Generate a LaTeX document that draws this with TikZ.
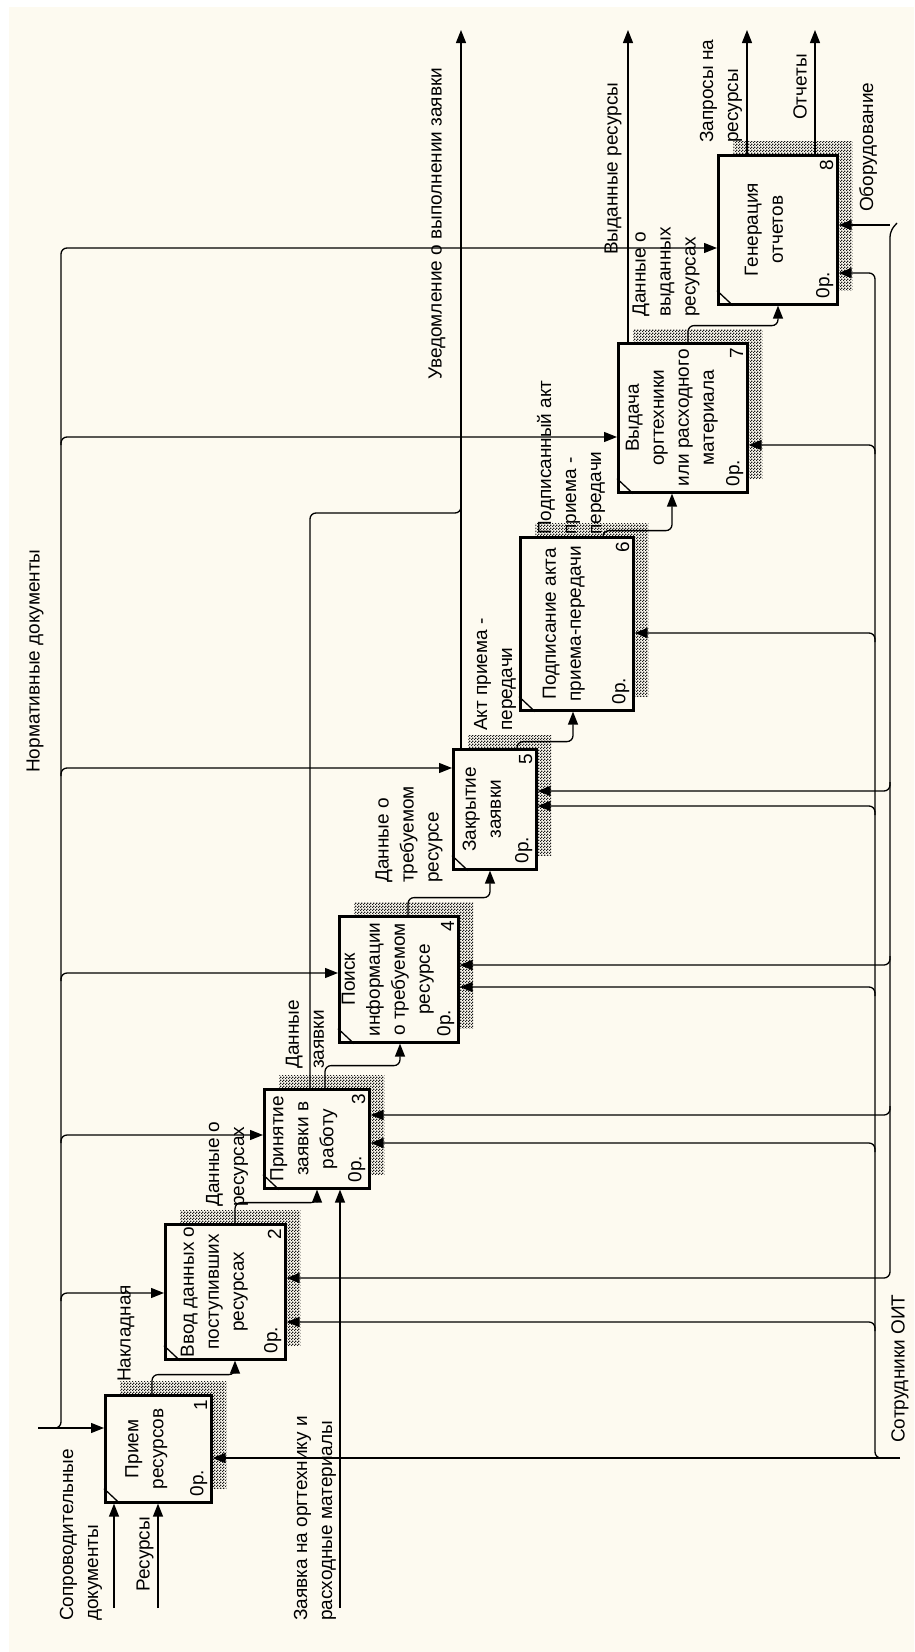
\documentclass[tikz,border=0pt]{standalone}
\usepackage{fontspec}
\setmainfont{Liberation Sans}
\usepackage{tikz}
\usetikzlibrary{arrows.meta,calc,patterns,shadows}
\definecolor{paper}{RGB}{253,250,240}
\pgfdeclarepatternformonly{finecheck}{\pgfqpoint{0pt}{0pt}}{\pgfqpoint{3pt}{3pt}}{\pgfqpoint{3pt}{3pt}}{%
  \pgfpathrectangle{\pgfqpoint{0pt}{0pt}}{\pgfqpoint{1.5pt}{1.5pt}}%
  \pgfpathrectangle{\pgfqpoint{1.5pt}{1.5pt}}{\pgfqpoint{1.5pt}{1.5pt}}%
  \pgfusepath{fill}}

\begin{document}
\begin{tikzpicture}[x=1pt, y=-1pt,
    every node/.style={font=\fontsize{19}{25}\selectfont},
    func/.style={draw, line width=2.6pt, fill=paper, anchor=north west, inner sep=0pt,
      general shadow={shadow xshift=15pt, shadow yshift=14pt, pattern=finecheck, pattern color=black!90}},
    ftext/.style={rotate=90, align=center, inner sep=0pt},
    fnum/.style={rotate=90, inner sep=0pt},
    lbl/.style={rotate=90, align=left, anchor=west, inner sep=0pt},
    arr/.style={line width=1.3pt, rounded corners=6pt, -{Triangle[length=13pt,width=10pt]}},
    wire/.style={line width=1.3pt, rounded corners=6pt}]
    \fill[white] (0,0) rectangle (914,1652);
    \fill[paper] (9,7) rectangle (914,1652);
    \useasboundingbox (0,0) rectangle (914,1652);

    \node[func, minimum width=106pt, minimum height=107pt] (b1) at (104,1394) {};
    \node[func, minimum width=120pt, minimum height=135pt] (b2) at (164,1223) {};
    \node[func, minimum width=105pt, minimum height=99pt]  (b3) at (263,1088) {};
    \node[func, minimum width=119pt, minimum height=126pt] (b4) at (338,915) {};
    \node[func, minimum width=83pt,  minimum height=120pt] (b5) at (452,748) {};
    \node[func, minimum width=113pt, minimum height=173pt] (b6) at (519,536) {};
    \node[func, minimum width=129pt, minimum height=149pt] (b7) at (617,342) {};
    \node[func, minimum width=119pt, minimum height=149pt] (b8) at (717,154) {};

    \node[ftext] (t1) at ($(b1.center)+(-12,0)$) {Прием\\ресурсов};
    \node[ftext] (t2) at ($(b2.center)+(-11,0)$) {Ввод данных о\\поступивших\\ресурсах};
    \node[ftext] (t3) at ($(b3.center)+(-13,0)$) {Принятие\\заявки в\\работу};
    \node[ftext] (t4) at ($(b4.center)+(-11,0)$) {Поиск\\информации\\о требуемом\\ресурсе};
    \node[ftext] (t5) at ($(b5.center)+(-13,0)$) {Закрытие\\заявки};
    \node[ftext] (t6) at ($(b6.center)+(-13,0)$) {Подписание акта\\приема-передачи};
    \node[ftext] (t7) at ($(b7.center)+(-11,0)$) {Выдача\\оргтехники\\или расходного\\материала};
    \node[ftext] (t8) at ($(b8.center)+(-14,0)$) {Генерация\\отчетов};

    \foreach \b/\n in {b1/1, b2/2, b3/3, b4/4, b5/5, b6/6, b7/7, b8/8} {
        \node[fnum] (n\n) at ($(\b.north east)+(-12,11)$) {\n};
        \node[lbl] (z\n) at ($(\b.south east)+(-14,-7)$) {0р.};
        \draw[line width=1.3pt] ($(\b.south west)+(0,-15)$) -- ($(\b.south west)+(16,0)$);
    }

    \node[lbl] (l_norm) at (35,773) {Нормативные документы};
    \node[lbl] (l_sopr) at (81,1621) {Сопроводительные\\документы};
    \node[lbl] (l_res) at (145,1592) {Ресурсы};
    \node[lbl] (l_zay) at (315,1621) {Заявка на оргтехнику и\\расходные материалы};
    \node[lbl] (l_nakl) at (126,1382) {Накладная};
    \node[lbl] (l_dres) at (227,1207) {Данные о\\ресурсах};
    \node[lbl] (l_dzay) at (305,1069) {Данные\\заявки};
    \node[lbl] (l_dtreb) at (409,883) {Данные о\\требуемом\\ресурсе};
    \node[lbl] (l_akt) at (495,731) {Акт приема -\\передачи};
    \node[lbl] (l_podp) at (571,535) {Подписанный акт\\приема -\\передачи};
    \node[lbl] (l_uved) at (437,380) {Уведомление о выполнении заявки};
    \node[lbl] (l_dvyd) at (666,317) {Данные о\\выданных\\ресурсах};
    \node[lbl] (l_vyd) at (613,255) {Выданные ресурсы};
    \node[lbl] (l_zapr) at (721,143) {Запросы на\\ресурсы};
    \node[lbl] (l_otch) at (800,120) {Отчеты};
    \node[lbl] (l_obor) at (868,212) {Оборудование};
    \node[lbl] (l_sotr) at (900,1443) {Сотрудники ОИТ};

    \coordinate (in_sopr) at (114,1608);
    \coordinate (in_res) at (158,1608);
    \coordinate (in_zay) at (340,1608);
    \coordinate (in_norm) at (38,1428);
    \coordinate (in_sotr) at (900,1458);
    \coordinate (in_obor) at (897,223);
    \coordinate (out_uved) at (461,30);
    \coordinate (out_vyd) at (628,30);
    \coordinate (out_zapr) at (747,30);
    \coordinate (out_otch) at (815,30);

    % inputs
    \draw[arr] (in_sopr) -- (in_sopr |- b1.south);
    \draw[arr] (in_res) -- (in_res |- b1.south);
    \draw[arr] (in_zay) -- (in_zay |- b3.south);

    % controls
    \draw[arr] (in_norm) -- (in_norm -| b1.west);
    \draw[arr] ($(in_norm)+(16,0)$) -| (61,248) -- (b8.west |- 0,248);
    \foreach \b/\y in {b2/1293, b3/1135, b4/973, b5/768, b7/437}
        \draw[arr] (61,\y+8) |- (\b.west |- 0,\y);

    % flows between functions
    \draw[arr] ($(b1.north west)+(48,0)$) |- ($(b2.south west)+(71,14)$) -- ($(b2.south west)+(71,0)$);
    \draw[arr] ($(b2.north west)+(71,0)$) |- ($(b3.south west)+(54,13)$) -- ($(b3.south west)+(54,0)$);
    \draw[arr] ($(b3.north west)+(62,0)$) |- ($(b4.south west)+(62,22)$) -- ($(b4.south west)+(62,0)$);
    \draw[arr] ($(b4.north west)+(70,0)$) |- ($(b5.south west)+(38,27)$) -- ($(b5.south west)+(38,0)$);
    \draw[arr] ($(b5.north west)+(65,0)$) |- ($(b6.south west)+(54,30)$) -- ($(b6.south west)+(54,0)$);
    \draw[arr] ($(b6.north west)+(84,0)$) |- ($(b7.south west)+(55,37)$) -- ($(b7.south west)+(55,0)$);
    \draw[arr] ($(b7.north west)+(71,0)$) |- ($(b8.south west)+(61,20)$) -- ($(b8.south west)+(61,0)$);
    \draw[wire] ($(b3.north west)+(47,0)$) |- (out_uved |- 0,513) -- (out_uved |- 0,505);

    % outputs
    \draw[arr] (out_uved |- b5.north) -- (out_uved);
    \draw[arr] (out_vyd |- b7.north) -- (out_vyd);
    \draw[arr] (out_zapr |- b8.north) -- (out_zapr);
    \draw[arr] (out_otch |- b8.north) -- (out_otch);

    % mechanisms
    \draw[arr] (in_sotr) -- (in_sotr -| b1.east);
    \draw[arr] ($(in_sotr)+(-14,0)$) -| (875,273) -- (b8.east |- 0,273);
    \foreach \b/\y in {b7/445, b6/633, b5/806, b4/987, b3/1143, b2/1322}
        \draw[arr] (875,\y+9) |- (\b.east |- 0,\y);
    \draw[arr] (in_obor) -- (890,231) |- (b2.east |- 0,1278);
    \draw[arr] (890,225) -- (b8.east |- 0,225);
    \foreach \b/\y in {b5/791, b4/965, b3/1115}
        \draw[arr] (890,\y-9) |- (\b.east |- 0,\y);
\end{tikzpicture}
\end{document}
